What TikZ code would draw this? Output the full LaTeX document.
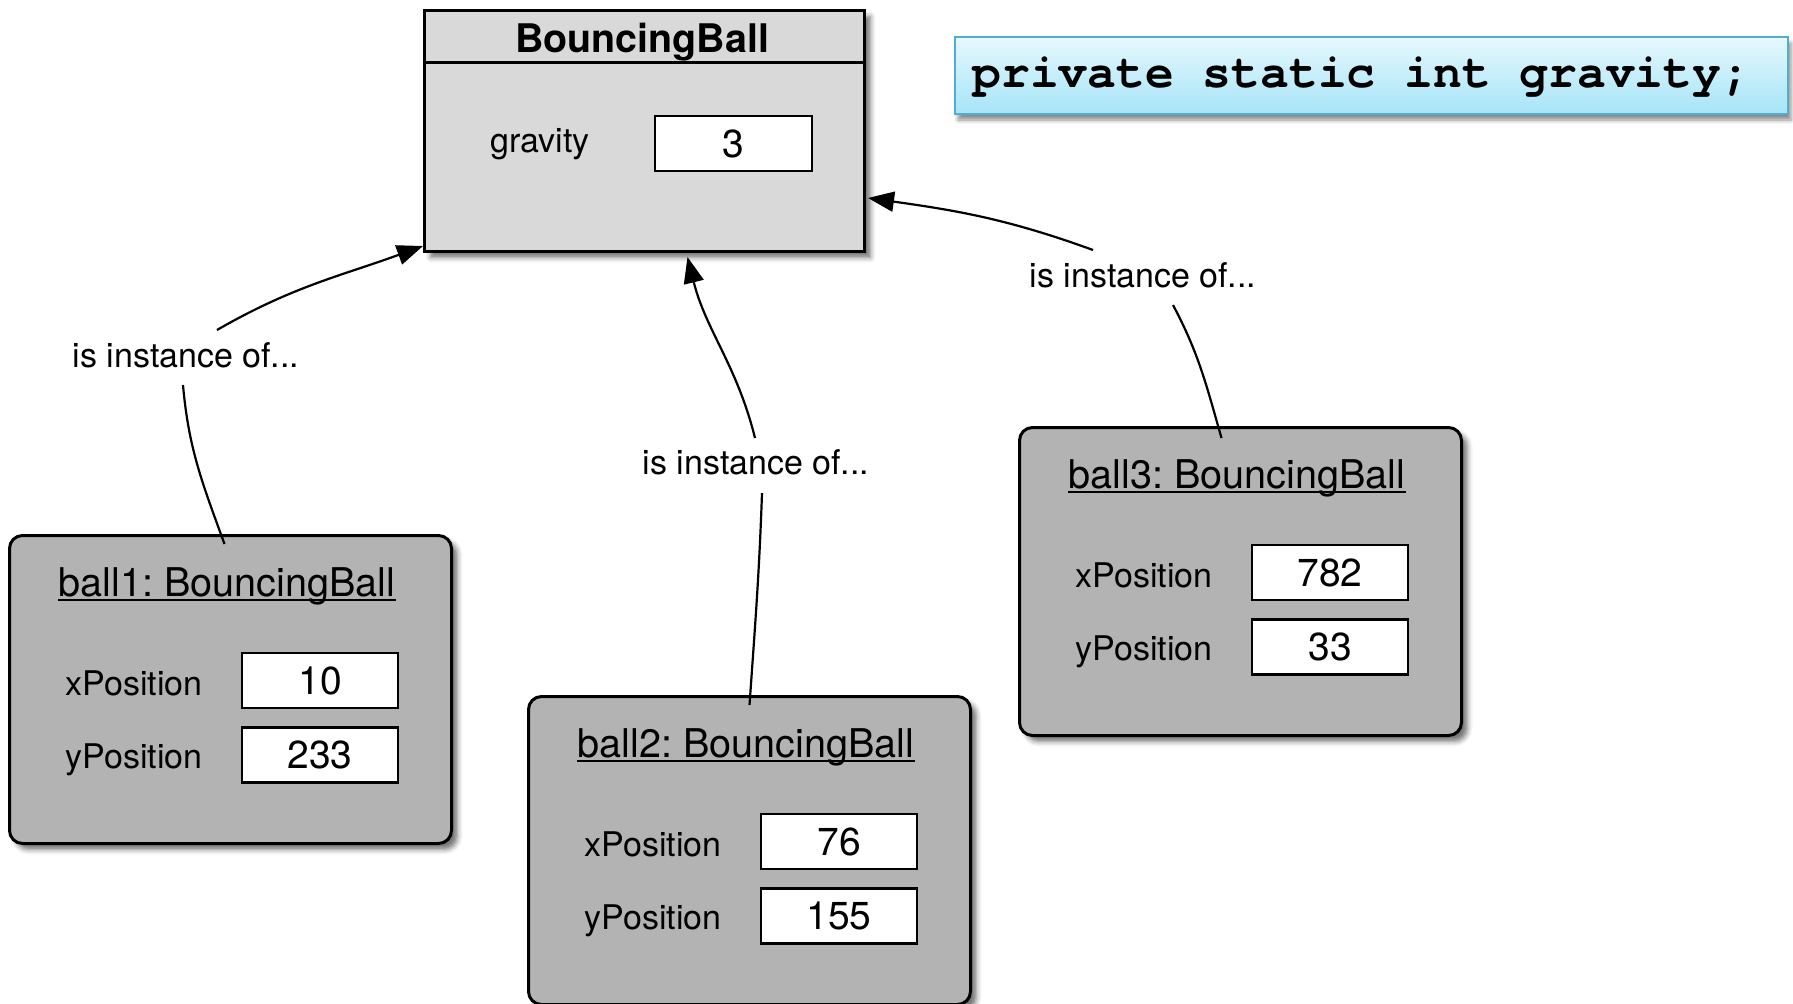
\documentclass[tikz,border=0pt]{standalone}
\usepackage{fontspec}
\setmainfont{TeX Gyre Heros}
\setmonofont{TeX Gyre Cursor}
\frenchspacing
\usetikzlibrary{arrows.meta,shadows.blur,calc}

\definecolor{classfill}{HTML}{D9D9D9}
\definecolor{objfill}{HTML}{B3B3B3}
\definecolor{codetop}{HTML}{E6F8FE}
\definecolor{codebot}{HTML}{A6E4F7}
\definecolor{codeline}{HTML}{4FAFCF}

\tikzset{
  softshadow/.style={blur shadow={shadow xshift=3pt, shadow yshift=-3pt,
      shadow blur radius=2.5pt, shadow opacity=55}},
  classbox/.style={draw, line width=1.5pt, fill=classfill, minimum width=220pt,
      minimum height=120.5pt, inner sep=0pt, softshadow},
  objbox/.style={draw, line width=1.5pt, fill=objfill, rounded corners=6.5pt,
      minimum width=221pt, minimum height=154pt, inner sep=0pt, softshadow},
  valbox/.style={draw, line width=1.2pt, fill=white, minimum width=78pt,
      minimum height=27.5pt, inner sep=0pt, font=\fontsize{19.5}{23}\selectfont},
  fieldname/.style={inner sep=0pt, anchor=base, font=\fontsize{17}{20}\selectfont},
  objtitle/.style={inner sep=0pt, anchor=base, font=\fontsize{19.8}{24}\selectfont},
  relname/.style={inner sep=0pt, font=\fontsize{17}{20}\selectfont},
  link/.style={line width=1.1pt},
  instarrow/.style={line width=1.1pt, -{Triangle[length=13pt,width=10pt]}},
  codebox/.style={draw=codeline, line width=1pt, top color=codetop,
      bottom color=codebot, minimum width=416.5pt, minimum height=38.5pt,
      inner sep=0pt, blur shadow={shadow xshift=1.5pt, shadow yshift=-3pt,
      shadow blur radius=2pt, shadow opacity=45}},
}

% An object of class BouncingBall: rounded box, underlined title, two fields
\newcommand\ballobject[6]{%
  \begin{scope}[shift={(#2,#3)}]
    \node[objbox, anchor=north west] (#1) at (0,0) {};
    \node[objtitle] (#1t) at (219,62) {#4};
    \draw[line width=1pt] ([yshift=-2pt]#1t.base west) -- ([yshift=-2pt]#1t.base east);
    \node[fieldname] (#1xl) at (126,161) {xPosition};
    \node[valbox] (#1xv) at (312,146.5) {#5};
    \node[fieldname] (#1yl) at (126,234) {yPosition};
    \node[valbox] (#1yv) at (312,221) {#6};
  \end{scope}}

\begin{document}
\begin{tikzpicture}[x=0.5pt,y=-0.5pt]
  \useasboundingbox (0,0) rectangle (1793,1003);

  % class box with its static field
  \node[classbox, anchor=north west] (cls) at (423,9) {};
  \draw[line width=1.5pt] ($(cls.north west)+(0,53)$) -- ($(cls.north east)+(0,53)$);
  \node[inner sep=0pt, anchor=base, font=\bfseries\fontsize{19.7}{24}\selectfont]
    (clsname) at (642,52) {BouncingBall};
  \node[fieldname] (gname) at (540,152) {gravity};
  \node[valbox, minimum width=78.5pt] (gval) at (733.5,143.5) {3};

  % declaration of the static field
  \node[codebox, anchor=north west] (code) at (954,36) {};
  \node[inner sep=0pt, anchor=base west,
        font=\ttfamily\bfseries\fontsize{24}{28}\selectfont]
    (codetext) at (972,87) {private static int gravity;};

  % the three instances
  \ballobject{b1}{8}{534}{ball1: BouncingBall}{10}{233}
  \ballobject{b2}{527}{695}{ball2: BouncingBall}{76}{155}
  \ballobject{b3}{1018}{426}{ball3: BouncingBall}{782}{33}

  % relation labels
  \node[relname] (l1) at (186,355) {is instance of...};
  \node[relname] (l2) at (756,462) {is instance of...};
  \node[relname] (l3) at (1143,275) {is instance of...};

  % instance-of connectors
  \draw[link] ($(l1.center)+(-3,30)$) to[out=-85,in=110] ($(b1.north)+(-6,10)$);
  \draw[instarrow] ($(l1.center)+(31,-25)$) to[out=30,in=200] ($(cls.south west)+(0,-7)$);

  \draw[link] ($(l2.center)+(6,31)$) to[out=-92,in=86] ($(b2.north)+(0,10)$);
  \draw[instarrow] ($(l2.center)+(-1,-24)$) to[out=104,in=-76] ($(cls.south)+(43,4)$);

  \draw[link] ($(l3.center)+(30,30)$) to[out=-62,in=106] ($(b3.north)+(-19,12)$);
  \draw[instarrow] ($(l3.center)+(-50,-25)$) to[out=160,in=-8] ($(cls.south east)+(2,-55)$);
\end{tikzpicture}
\end{document}
